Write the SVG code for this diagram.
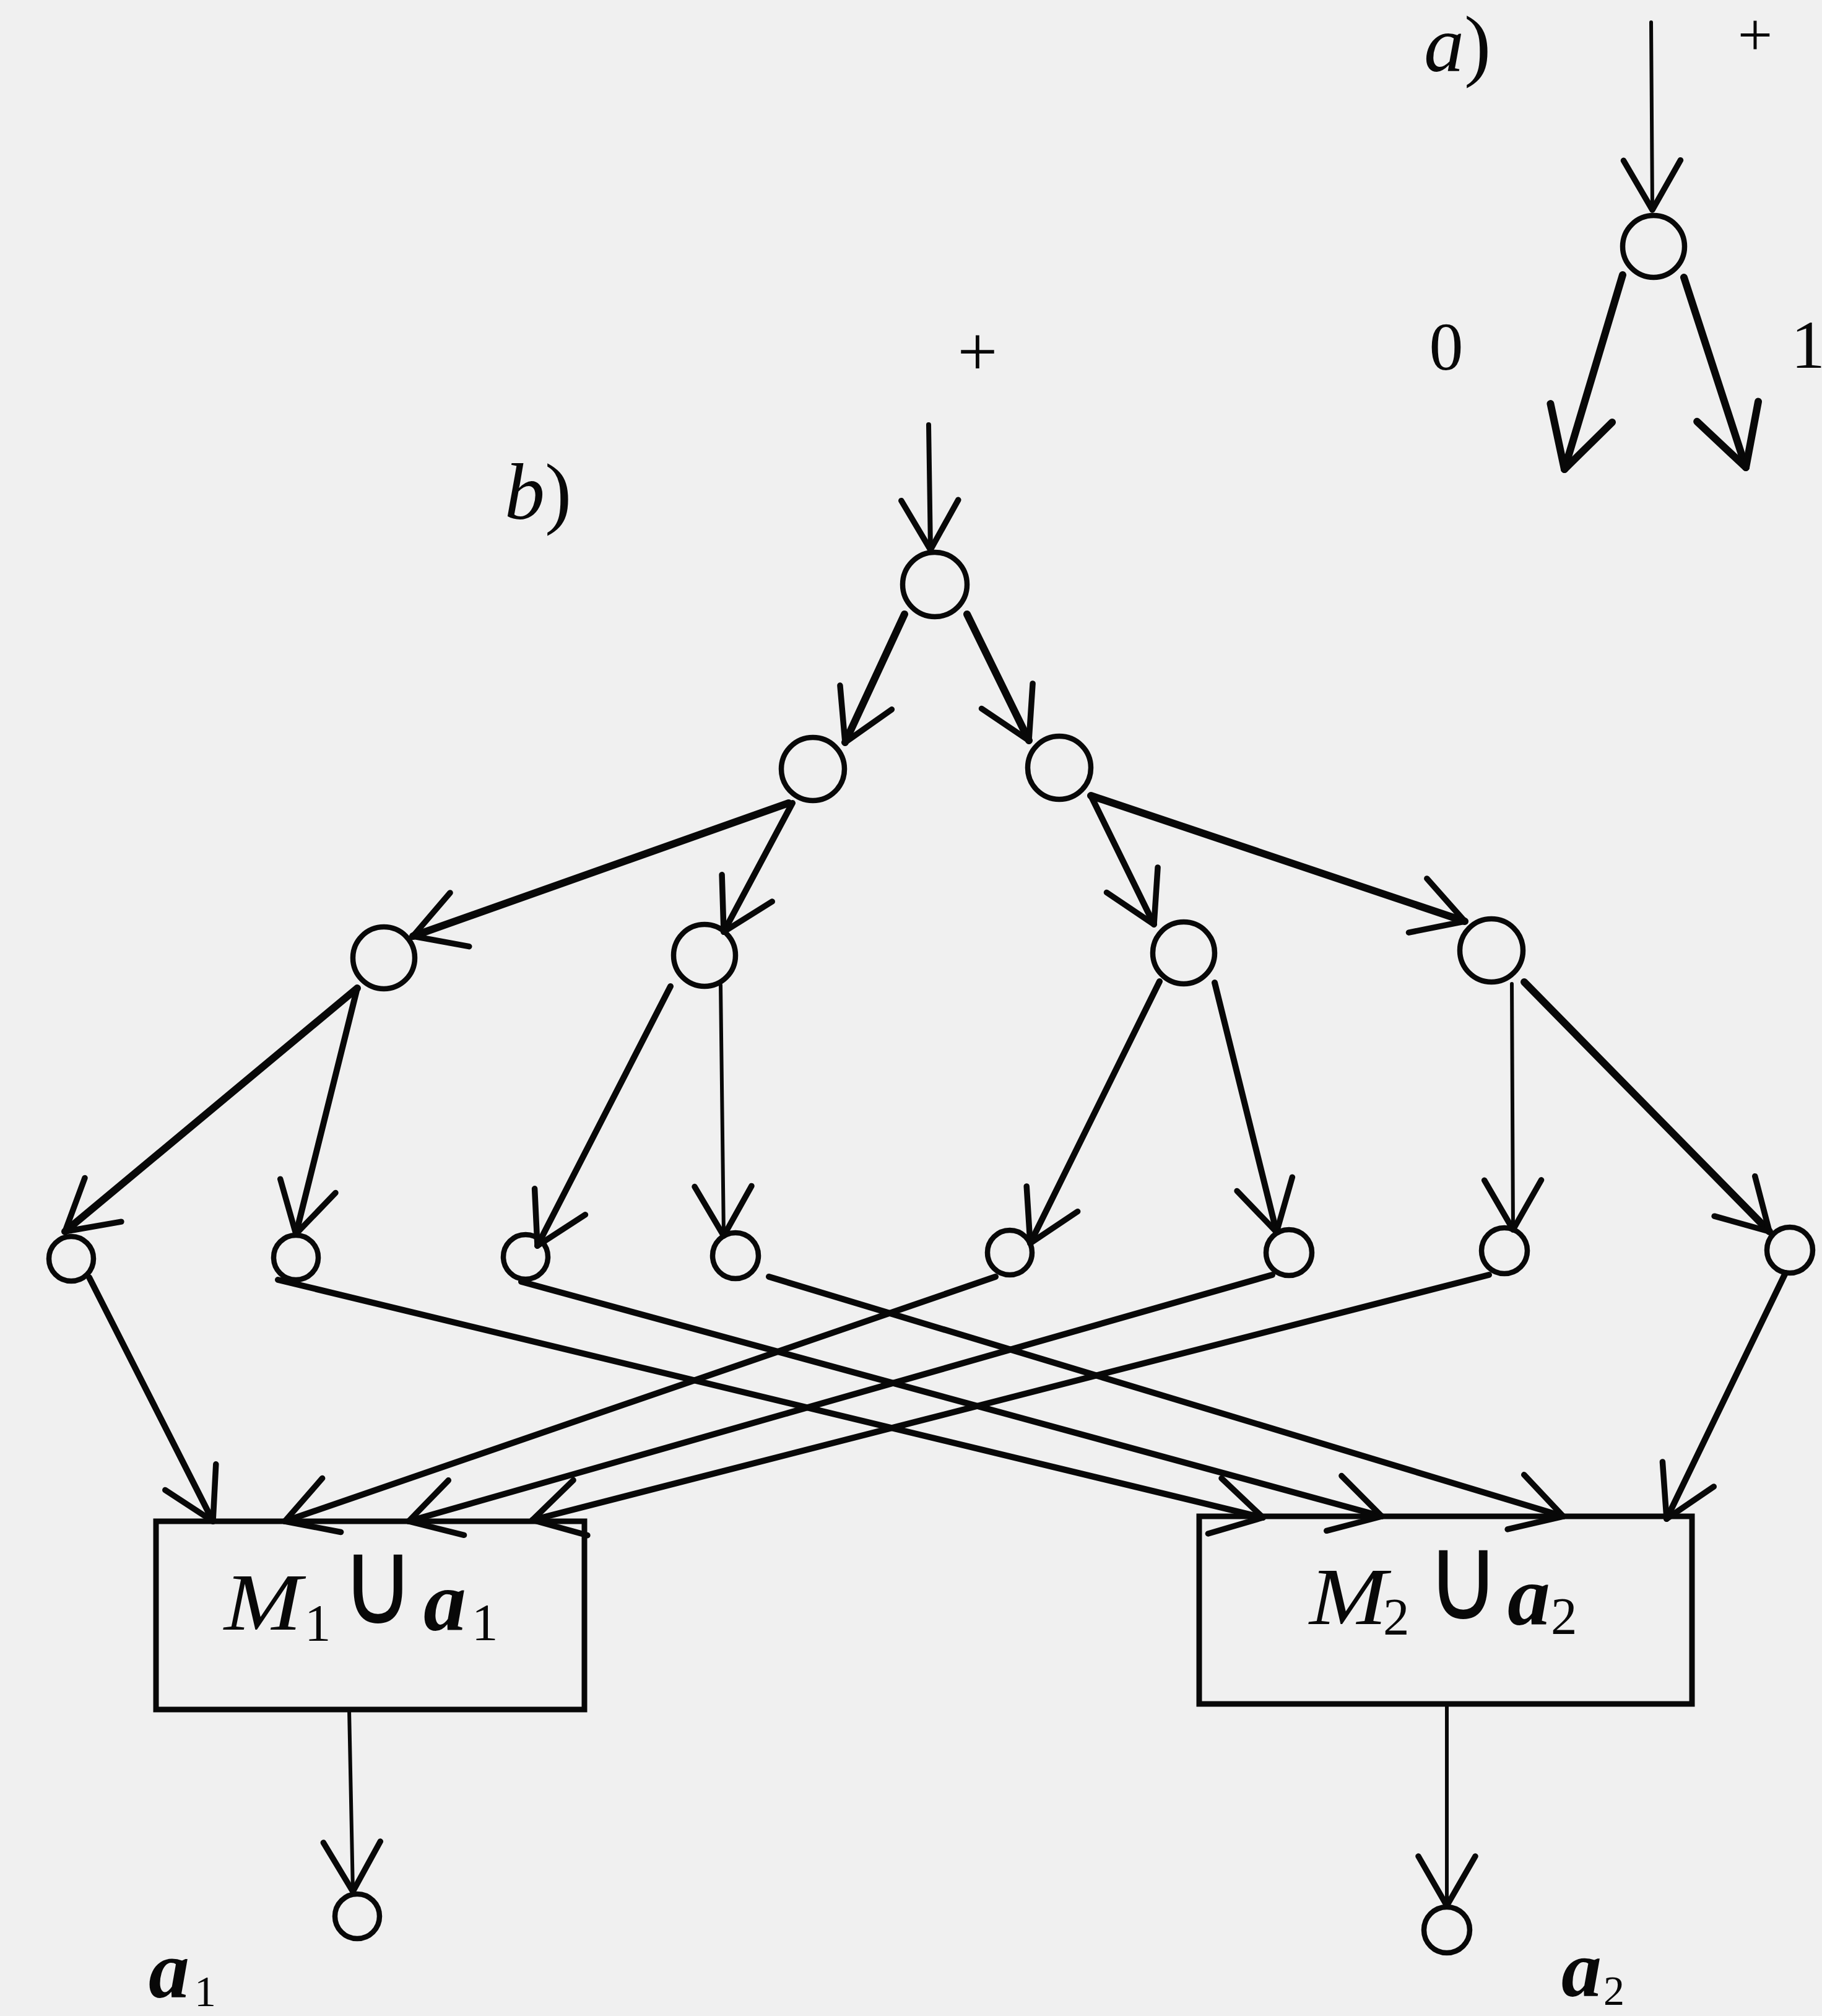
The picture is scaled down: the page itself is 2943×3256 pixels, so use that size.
<svg xmlns="http://www.w3.org/2000/svg" width="2943" height="3256" viewBox="0 0 2943 3256">
<style>
.bg{fill:#f0f0f0}
.node{fill:none;stroke:#080808;stroke-width:8.5}
.box{fill:none;stroke:#080808;stroke-width:9}
.c{fill:none;stroke:#080808;stroke-width:10;stroke-linecap:round;marker-end:url(#arr)}
.thin{stroke-width:6}
.thick{stroke-width:12}
.t{font-family:"Liberation Serif","Times New Roman",serif;fill:#080808}
.i{font-style:italic}
.bi{font-style:italic;font-weight:bold}
.u{font-family:"DejaVu Sans","Liberation Sans",sans-serif;fill:#080808}
</style>
<defs>
<marker id="arr" markerUnits="userSpaceOnUse" orient="auto" viewBox="-110 -60 120 120" markerWidth="120" markerHeight="120" refX="0" refY="0" overflow="visible">
<path d="M-80,-46 L0,0 L-80,46" fill="none" stroke="#080808" stroke-width="9.5" stroke-linecap="round" stroke-linejoin="round"/>
</marker>
<marker id="arrBig" markerUnits="userSpaceOnUse" orient="auto" viewBox="-120 -70 130 140" markerWidth="130" markerHeight="140" refX="0" refY="0" overflow="visible">
<path d="M-95,-52 L0,0 L-95,52" fill="none" stroke="#080808" stroke-width="12" stroke-linecap="round" stroke-linejoin="round"/>
</marker>
</defs>
<rect class="bg" x="0" y="0" width="2943" height="3256"/>

<g id="labels">
<text class="t" x="2300" y="115" font-size="130"><tspan class="i">a</tspan>)</text>
<text class="t" x="2835" y="90" font-size="100" text-anchor="middle">+</text>
<text class="t" x="2336" y="597" font-size="110" text-anchor="middle">0</text>
<text class="t" x="2893" y="594" font-size="110">1</text>
<text class="t" x="815" y="838" font-size="130"><tspan class="i">b</tspan>)</text>
<text class="t" x="1579" y="606" font-size="115" text-anchor="middle">+</text>
<text class="t bi" x="240" y="3226" font-size="132">a</text>
<text class="t" x="314" y="3240" font-size="70">1</text>
<text class="t bi" x="2522" y="3224" font-size="130">a</text>
<text class="t" x="2590" y="3238" font-size="68">2</text>
</g>

<g id="connectors">
<!-- part a -->
<line class="c thin" x1="2667" y1="36" x2="2669" y2="339"/>
<line class="c thick" x1="2621" y1="444" x2="2527" y2="758" style="marker-end:url(#arrBig)"/>
<line class="c thick" x1="2720" y1="448" x2="2820" y2="755" style="marker-end:url(#arrBig)"/>
<!-- part b -->
<line class="c" x1="1500" y1="686" x2="1503" y2="888" style="stroke-width:8"/>
<line class="c thick" x1="1461" y1="992" x2="1365" y2="1199"/>
<line class="c thick" x1="1562" y1="992" x2="1662" y2="1196"/>
<line class="c thick" x1="1274" y1="1297" x2="667" y2="1512"/>
<line class="c" x1="1280" y1="1297" x2="1169" y2="1505"/>
<line class="c" x1="1762" y1="1285" x2="1864" y2="1493"/>
<line class="c thick" x1="1762" y1="1285" x2="2366" y2="1488"/>
<line class="c thick" x1="577" y1="1596" x2="105" y2="1989"/>
<line class="c" x1="577" y1="1596" x2="478" y2="1993"/>
<line class="c" x1="1083" y1="1593" x2="868" y2="2012"/>
<line class="c thin" x1="1164" y1="1591" x2="1169" y2="1996"/>
<line class="c" x1="1873" y1="1585" x2="1664" y2="2008"/>
<line class="c" x1="1962" y1="1587" x2="2062" y2="1990"/>
<line class="c thin" x1="2442" y1="1589" x2="2444" y2="1986"/>
<line class="c thick" x1="2462" y1="1586" x2="2858" y2="1989"/>
<line class="c" x1="144" y1="2063" x2="344" y2="2457"/>
<line class="c" x1="2884" y1="2056" x2="2692" y2="2453"/>
<line class="c" x1="449" y1="2067" x2="2040" y2="2451"/>
<line class="c" x1="842" y1="2070" x2="2232" y2="2449"/>
<line class="c" x1="1242" y1="2062" x2="2525" y2="2449"/>
<line class="c" x1="1608" y1="2062" x2="460" y2="2457"/>
<line class="c" x1="2055" y1="2059" x2="660" y2="2457"/>
<line class="c" x1="2405" y1="2059" x2="860" y2="2455"/>
<line class="c thin" x1="564" y1="2761" x2="570" y2="3055"/>
<line class="c thin" x1="2337" y1="2752" x2="2337" y2="3078"/>
</g>

<g id="node-a"><circle class="node" cx="2671" cy="398" r="50"/></g>
<g id="node-root"><circle class="node" cx="1510" cy="944" r="52"/></g>
<g id="node-l2-0"><circle class="node" cx="1313" cy="1242" r="51"/></g>
<g id="node-l2-1"><circle class="node" cx="1711" cy="1240" r="51"/></g>
<g id="node-l3-0"><circle class="node" cx="620" cy="1547" r="50"/></g>
<g id="node-l3-1"><circle class="node" cx="1138" cy="1543" r="50"/></g>
<g id="node-l3-2"><circle class="node" cx="1912" cy="1539" r="50"/></g>
<g id="node-l3-3"><circle class="node" cx="2409" cy="1535" r="51"/></g>
<g id="node-l4-0"><circle class="node" cx="115" cy="2033" r="36"/></g>
<g id="node-l4-1"><circle class="node" cx="478" cy="2031" r="36"/></g>
<g id="node-l4-2"><circle class="node" cx="849" cy="2030" r="36"/></g>
<g id="node-l4-3"><circle class="node" cx="1188" cy="2028" r="37"/></g>
<g id="node-l4-4"><circle class="node" cx="1631" cy="2023" r="36"/></g>
<g id="node-l4-5"><circle class="node" cx="2082" cy="2023" r="37"/></g>
<g id="node-l4-6"><circle class="node" cx="2430" cy="2020" r="37"/></g>
<g id="node-l4-7"><circle class="node" cx="2891" cy="2019" r="37"/></g>

<g id="box-1">
<rect class="box" x="252" y="2457" width="692" height="304"/>
<text class="t i" transform="translate(362,2632) scale(1.14,1)" x="0" y="0" font-size="132">M</text>
<text class="t" x="492" y="2650" font-size="85">1</text>
<text class="u" transform="translate(550,2622) scale(0.86,1)" x="0" y="0" font-size="192">∪</text>
<text class="t bi" x="684" y="2633" font-size="138">a</text>
<text class="t" x="762" y="2649" font-size="85">1</text>
</g>
<g id="box-2">
<rect class="box" x="1937" y="2449" width="796" height="303"/>
<text class="t i" transform="translate(2115,2623) scale(1.14,1)" x="0" y="0" font-size="132">M</text>
<text class="t" x="2234" y="2640" font-size="85">2</text>
<text class="u" transform="translate(2303,2615) scale(0.86,1)" x="0" y="0" font-size="192">∪</text>
<text class="t bi" x="2435" y="2624" font-size="138">a</text>
<text class="t" x="2505" y="2639" font-size="85">2</text>
</g>
<g id="out-1"><circle class="node" cx="577" cy="3095" r="36"/></g>
<g id="out-2"><circle class="node" cx="2337" cy="3117" r="37"/></g>
</svg>
